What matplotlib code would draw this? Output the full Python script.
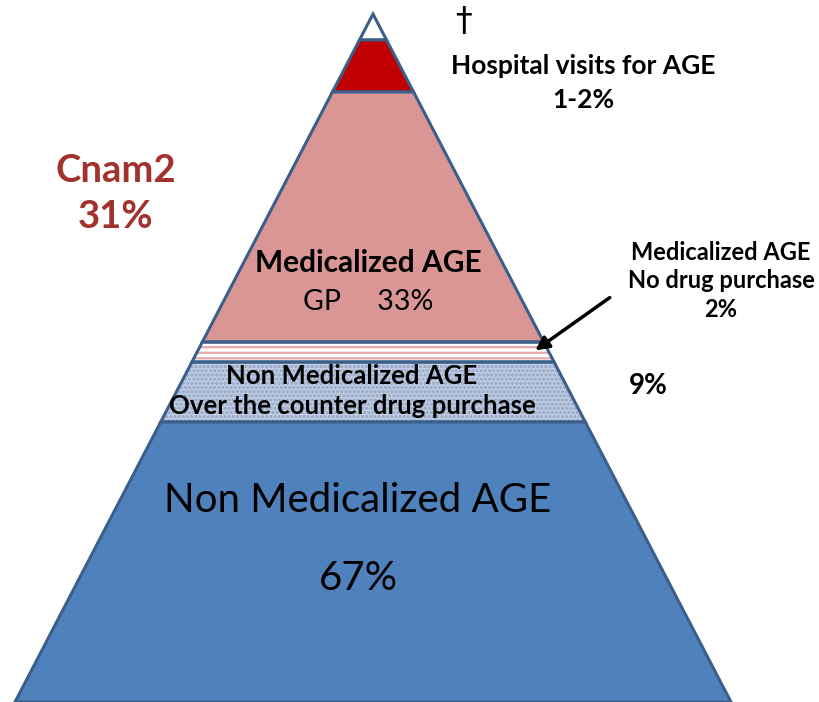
import matplotlib
matplotlib.use("Agg")
import matplotlib.pyplot as plt
from matplotlib.patches import Polygon

# pyramid layers, top to bottom: (name, top y, bottom y) in picture pixels
layer_names = ["top", "hospital", "gp", "no_drug", "otc", "non_med"]
layer_tops = [14, 40, 92, 342, 362, 422]
layer_bottoms = [40, 92, 342, 362, 422, 702]
layer_colors = ["white", "#C00000", "#D99694", "white", "#C3CEE2", "#4F81BD"]
layer_hatches = [None, None, None, "---", "....", None]
hatch_colors = [None, None, None, "#E6A9A7", "#8EA3C6", None]

apex_x, apex_y = 373, 14
base_y, base_half = 702, 358
edge = "#3A5F8B"

plt.rcParams["font.family"] = ["Lato", "DejaVu Sans"]
plt.rcParams["hatch.linewidth"] = 1.6

fig = plt.figure(figsize=(8.19, 7.02), dpi=100)
ax = fig.add_axes([0, 0, 1, 1])
ax.set_xlim(0, 819)
ax.set_ylim(702, 0)
ax.axis("off")


def half(y):
    return (y - apex_y) * base_half / (base_y - apex_y)


for i in range(len(layer_names)):
    t, b = layer_tops[i], layer_bottoms[i]
    pts = [(apex_x - half(t), t), (apex_x + half(t), t),
           (apex_x + half(b), b), (apex_x - half(b), b)]
    if layer_hatches[i]:
        ax.add_patch(Polygon(pts, closed=True, facecolor=layer_colors[i],
                             edgecolor=hatch_colors[i], hatch=layer_hatches[i],
                             lw=0, zorder=1))
        ax.add_patch(Polygon(pts, closed=True, fill=False, edgecolor=edge,
                             lw=2.2, zorder=2))
    else:
        ax.add_patch(Polygon(pts, closed=True, facecolor=layer_colors[i],
                             edgecolor=edge, lw=2.2, zorder=2, joinstyle="miter"))

# labels
ax.text(116, 194, "Cnam2\n31%", color="#A1322E", fontsize=27.5, fontweight="bold",
        ha="center", va="center", linespacing=1.4)
ax.text(463, 21, "\u2020", fontsize=24, ha="center", va="center",
        family=["DejaVu Sans"])
ax.text(583, 83, "Hospital visits for AGE\n1-2%", fontsize=19, fontweight="bold",
        ha="center", va="center", linespacing=1.45)
ax.text(368, 263, "Medicalized AGE", fontsize=21.5, fontweight="bold",
        ha="center", va="center")
ax.text(368, 302, "GP     33%", fontsize=20.5, ha="center", va="center")
ax.text(721, 281, "Medicalized AGE\nNo drug purchase\n2%", fontsize=17,
        fontweight="bold", ha="center", va="center", linespacing=1.3)
ax.text(648, 386, "9%", fontsize=20, fontweight="bold", ha="center", va="center")
ax.text(352, 391, "Non Medicalized AGE\nOver the counter drug purchase",
        fontsize=18.5, fontweight="bold", ha="center", va="center",
        linespacing=1.25, zorder=3)
ax.text(358, 500, "Non Medicalized AGE", fontsize=29, ha="center",
        va="center", zorder=3)
ax.text(358, 578, "67%", fontsize=29, ha="center", va="center", zorder=3)

ax.annotate("", xy=(533, 352), xytext=(612, 296),
            arrowprops=dict(arrowstyle="-|>,head_length=0.8,head_width=0.4",
                            color="black", lw=2.5), zorder=4)

fig.savefig("out.png", dpi=100)
